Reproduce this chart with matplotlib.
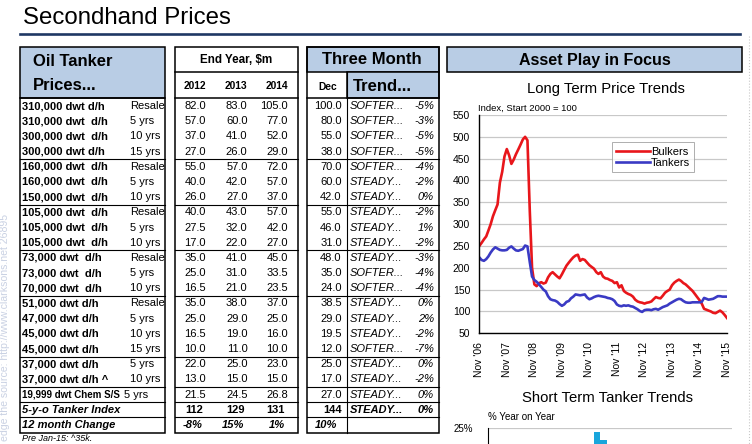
import matplotlib
matplotlib.use('Agg')
import matplotlib.pyplot as plt
from matplotlib.patches import Rectangle
import pandas as pd

plt.rcParams['font.family'] = ['Liberation Sans', 'DejaVu Sans']

# ---------------------------------------------------------------
# Table data
# ---------------------------------------------------------------
vessel = ["310,000 dwt d/h", "310,000 dwt  d/h", "300,000 dwt  d/h", "300,000 dwt d/h",
          "160,000 dwt  d/h", "160,000 dwt  d/h", "150,000 dwt  d/h",
          "105,000 dwt  d/h", "105,000 dwt  d/h", "105,000 dwt  d/h",
          "73,000 dwt  d/h", "73,000 dwt  d/h", "70,000 dwt  d/h",
          "51,000 dwt d/h", "47,000 dwt d/h", "45,000 dwt d/h", "45,000 dwt d/h",
          "37,000 dwt d/h", "37,000 dwt d/h ^", "19,999 dwt Chem S/S"]
age = ["Resale", "5 yrs", "10 yrs", "15 yrs",
       "Resale", "5 yrs", "10 yrs",
       "Resale", "5 yrs", "10 yrs",
       "Resale", "5 yrs", "10 yrs",
       "Resale", "5 yrs", "10 yrs", "15 yrs",
       "5 yrs", "10 yrs", "5 yrs"]
p2012 = [82.0, 57.0, 37.0, 27.0, 55.0, 40.0, 26.0, 40.0, 27.5, 17.0,
         35.0, 25.0, 16.5, 35.0, 25.0, 16.5, 10.0, 22.0, 13.0, 21.5]
p2013 = [83.0, 60.0, 41.0, 26.0, 57.0, 42.0, 27.0, 43.0, 32.0, 22.0,
         41.0, 31.0, 21.0, 38.0, 29.0, 19.0, 11.0, 25.0, 15.0, 24.5]
p2014 = [105.0, 77.0, 52.0, 29.0, 72.0, 57.0, 37.0, 57.0, 42.0, 27.0,
         45.0, 33.5, 23.5, 37.0, 25.0, 16.0, 10.0, 23.0, 15.0, 26.8]
dec = [100.0, 80.0, 55.0, 38.0, 70.0, 60.0, 42.0, 55.0, 46.0, 31.0,
       48.0, 35.0, 24.0, 38.5, 29.0, 19.5, 12.0, 25.0, 17.0, 27.0]
trend = ["SOFTER...", "SOFTER...", "SOFTER...", "SOFTER...", "SOFTER...",
         "STEADY...", "STEADY...", "STEADY...", "STEADY...", "STEADY...",
         "STEADY...", "SOFTER...", "SOFTER...", "STEADY...", "STEADY...",
         "STEADY...", "SOFTER...", "STEADY...", "STEADY...", "STEADY..."]
trend_pct = ["-5%", "-3%", "-5%", "-5%", "-4%", "-2%", "0%", "-2%", "1%", "-2%",
             "-3%", "-4%", "-4%", "0%", "2%", "-2%", "-7%", "0%", "-2%", "0%"]

index_vals = [112, 129, 131]
index_dec = 144
index_trend = "STEADY..."
index_pct = "0%"
change_vals = ["-8%", "15%", "1%"]
change_dec = "10%"

# ---------------------------------------------------------------
# Long term price index (monthly, Nov 2006 - Nov 2015)
# ---------------------------------------------------------------
bulkers = [250, 257, 265, 272, 285, 300, 318, 332, 345, 395, 420, 455, 472, 458, 438,
           448, 460, 471, 482, 494, 500, 492, 330, 200, 162, 158, 165, 167, 164, 166,
           178, 186, 190, 185, 180, 176, 185, 195, 205, 212, 218, 224, 228, 230, 216,
           220, 218, 212, 206, 202, 198, 190, 186, 190, 180, 176, 175, 172, 170, 165,
           167, 155, 160, 147, 143, 140, 138, 134, 127, 123, 121, 120, 118, 120, 121,
           123, 128, 133, 131, 130, 136, 143, 147, 150, 160, 166, 170, 173, 170, 165,
           162, 157, 152, 147, 140, 133, 126, 118, 106, 104, 102, 100, 97, 96, 99,
           102, 98, 92, 85]
tankers = [224, 218, 216, 220, 226, 235, 242, 247, 244, 241, 240, 240, 241, 246, 249,
           244, 240, 239, 241, 243, 251, 249, 213, 180, 172, 168, 162, 156, 150, 146,
           135, 128, 126, 125, 122, 117, 113, 116, 122, 124, 130, 134, 139, 138, 137,
           138, 139, 132, 128, 130, 133, 135, 136, 135, 134, 133, 131, 130, 128, 124,
           116, 113, 112, 114, 113, 114, 112, 111, 108, 105, 101, 99, 103, 104, 104,
           103, 105, 106, 104, 107, 110, 112, 114, 118, 121, 124, 127, 129, 128, 124,
           121, 120, 120, 121, 121, 121, 121, 122, 131, 129, 127, 128, 129, 132, 135,
           135, 134, 134, 134]
months = pd.date_range("2006-11-01", periods=len(bulkers), freq="MS")

# short term chart: only the top of two bars is visible
short_slots = [16, 17]
short_yoy = [24.1, 22.0]

# ---------------------------------------------------------------
W, H = 752, 444
HEAD = "#b9cde5"
NAVY = "#1f3864"

fig = plt.figure(figsize=(W / 100, H / 100), dpi=100)
ax0 = fig.add_axes([0, 0, 1, 1])
ax0.set_xlim(0, W)
ax0.set_ylim(H, 0)
ax0.axis("off")


def rect(x0, y0, x1, y1):
    # pixel box -> figure fraction
    return [x0 / W, 1 - y1 / H, (x1 - x0) / W, (y1 - y0) / H]


def box(x0, y0, x1, y1, fc="none", lw=1.1):
    ax0.add_patch(Rectangle((x0, y0), x1 - x0, y1 - y0, fc=fc, ec="black", lw=lw))


def hline(x0, x1, y, lw=0.8):
    ax0.plot([x0, x1], [y, y], color="black", lw=lw)


# title
ax0.text(23, 18.5, "Secondhand Prices", fontsize=17.3, va="center", ha="left")
ax0.plot([20, 740], [34.3, 34.3], color=NAVY, lw=1.9)
ax0.plot([749, 749], [36, 444], color="#c8c8c8", lw=0.8, ls=":")

# watermark (only the visible part)
ax0.text(5, 214, "edge the source: http://www.clarksons.net 26895",
         rotation=90, fontsize=7.6, color="#c9d1e3", ha="center", va="top")

ROW0, DY = 106, 15.19
TOP, HB = 47, 98.4
BOT = ROW0 + 21.5 * DY
groups = [3, 6, 9, 12, 16, 18, 19, 20]

# table 1
T1 = (20, 164.5)
box(T1[0], TOP, T1[1], HB, fc=HEAD)
box(T1[0], HB, T1[1], BOT)
ax0.text(33, 61, "Oil Tanker", fontsize=12, weight="bold", va="center")
ax0.text(33, 85.5, "Prices...", fontsize=12, weight="bold", va="center")

# table 2
T2 = (175, 298)
box(T2[0], TOP, T2[1], BOT)
hline(T2[0], T2[1], 72.3, lw=1.1)
hline(T2[0], T2[1], HB, lw=1.1)
ax0.text((T2[0] + T2[1]) / 2, 60, "End Year, $m", fontsize=8.4, weight="bold",
         ha="center", va="center")
col_x = [206, 247.5, 288]
for cx, yr in zip(col_x, ["2012", "2013", "2014"]):
    ax0.text(cx, 86, yr, fontsize=7.4, weight="bold", ha="right", va="center")

# table 3
T3 = (307, 439)
DECX = 347
box(T3[0], TOP, T3[1], 72.3, fc=HEAD)
box(DECX, 72.3, T3[1], HB, fc=HEAD)
box(T3[0], TOP, T3[1], BOT)
hline(T3[0], T3[1], HB, lw=1.1)
ax0.plot([DECX, DECX], [72.3, BOT], color="black", lw=0.8)
ax0.text(321.5, 60, "Three Month", fontsize=12, weight="bold", va="center")
ax0.text(353, 86.5, "Trend...", fontsize=12, weight="bold", va="center")
ax0.text(327.5, 86.5, "Dec", fontsize=7.4, weight="bold", ha="center", va="center")

for g in groups:
    y = ROW0 + (g + 0.5) * DY
    for t in (T1, T2, T3):
        hline(t[0], t[1], y)

FS = 8
for i in range(len(vessel)):
    y = ROW0 + i * DY
    ax0.text(22, y, vessel[i], fontsize=7.0 if i == 19 else FS, weight="bold", va="center")
    ax0.text(124.5 if i == 19 else 130, y, age[i], fontsize=FS, va="center")
    for cx, v in zip(col_x, (p2012[i], p2013[i], p2014[i])):
        ax0.text(cx, y, f"{v:.1f}", fontsize=FS, ha="right", va="center")
    ax0.text(341.7, y, f"{dec[i]:.1f}", fontsize=FS, ha="right", va="center")
    ax0.text(349.5, y, trend[i], fontsize=FS, style="italic", va="center")
    ax0.text(434, y, trend_pct[i], fontsize=FS, style="italic", ha="right", va="center")

y = ROW0 + 20 * DY
ax0.text(22, y, "5-y-o Tanker Index", fontsize=FS, weight="bold", style="italic", va="center")
for cx, v in zip(col_x, index_vals):
    ax0.text(cx - 3, y, str(v), fontsize=FS, weight="bold", ha="right", va="center")
ax0.text(341.7, y, str(index_dec), fontsize=FS, weight="bold", ha="right", va="center")
ax0.text(349.5, y, index_trend, fontsize=FS, weight="bold", style="italic", va="center")
ax0.text(434, y, index_pct, fontsize=FS, weight="bold", style="italic", ha="right", va="center")

y = ROW0 + 21 * DY
ax0.text(22, y, "12 month Change", fontsize=FS, weight="bold", style="italic", va="center")
for cx, v in zip(col_x, change_vals):
    ax0.text(cx - 3.5, y, v, fontsize=FS, weight="bold", style="italic", ha="right", va="center")
ax0.text(337, y, change_dec, fontsize=FS, weight="bold", style="italic", ha="right", va="center")

ax0.text(22, 438, "Pre Jan-15: ^35k.", fontsize=6.5, style="italic", va="center")

# ---------------------------------------------------------------
# right panel
# ---------------------------------------------------------------
box(447, TOP, 742, 72.3, fc=HEAD)
ax0.text(594.5, 60, "Asset Play in Focus", fontsize=11.5, weight="bold",
         ha="center", va="center")
ax0.text(606, 89.5, "Long Term Price Trends", fontsize=10.7, ha="center", va="center")
ax0.text(478, 108, "Index, Start 2000 = 100", fontsize=6.8, va="center")

ax1 = fig.add_axes(rect(479.3, 115, 727, 333.3))
ax1.plot(months, bulkers, color="#e8161b", lw=1.9, label="Bulkers")
ax1.plot(months, tankers, color="#3a3ac4", lw=1.9, label="Tankers")
ax1.set_xlim(months[0], months[-1])
ax1.set_ylim(50, 550)
ax1.set_yticks(range(50, 551, 50))
ax1.grid(axis="y", color="#c8c8c8", lw=0.9)
ax1.set_axisbelow(True)
nov = months[::12]
ax1.set_xticks(nov)
ax1.set_xticklabels([d.strftime("Nov '%y") for d in nov], rotation=90)
ax1.tick_params(axis="x", length=0, pad=6, labelsize=7.5)
ax1.tick_params(axis="y", length=0, pad=6.5, labelsize=7.5)
for s in ("top", "right"):
    ax1.spines[s].set_visible(False)
for s in ("left", "bottom"):
    ax1.spines[s].set_linewidth(1.0)
leg = ax1.legend(loc="upper left", bbox_to_anchor=(612 / W, 1 - 142.3 / H),
                 bbox_transform=fig.transFigure, fontsize=8, frameon=True,
                 fancybox=False, edgecolor="#999999", borderaxespad=0,
                 borderpad=0.4, labelspacing=0.1, handlelength=3.0,
                 handletextpad=0.1)
leg.get_frame().set_linewidth(0.7)

ax0.text(608, 398, "Short Term Tanker Trends", fontsize=10.7, ha="center", va="center")
ax0.text(488, 417, "% Year on Year", fontsize=7, va="center")

ax2 = fig.add_axes(rect(488, 428, 732, 628))
ax2.bar(short_slots, short_yoy, width=1.0, align="edge", color="#19a6dc")
ax2.set_xlim(0, 37)
ax2.set_ylim(-25, 25)
ax2.set_yticks([25])
ax2.set_yticklabels(["25%"])
ax2.set_xticks([])
ax2.grid(axis="y", color="#c8c8c8", lw=0.9)
ax2.set_axisbelow(True)
ax2.tick_params(axis="y", length=0, pad=11, labelsize=7)
for s in ("top", "right", "bottom"):
    ax2.spines[s].set_visible(False)

fig.savefig("out.png", dpi=100)
